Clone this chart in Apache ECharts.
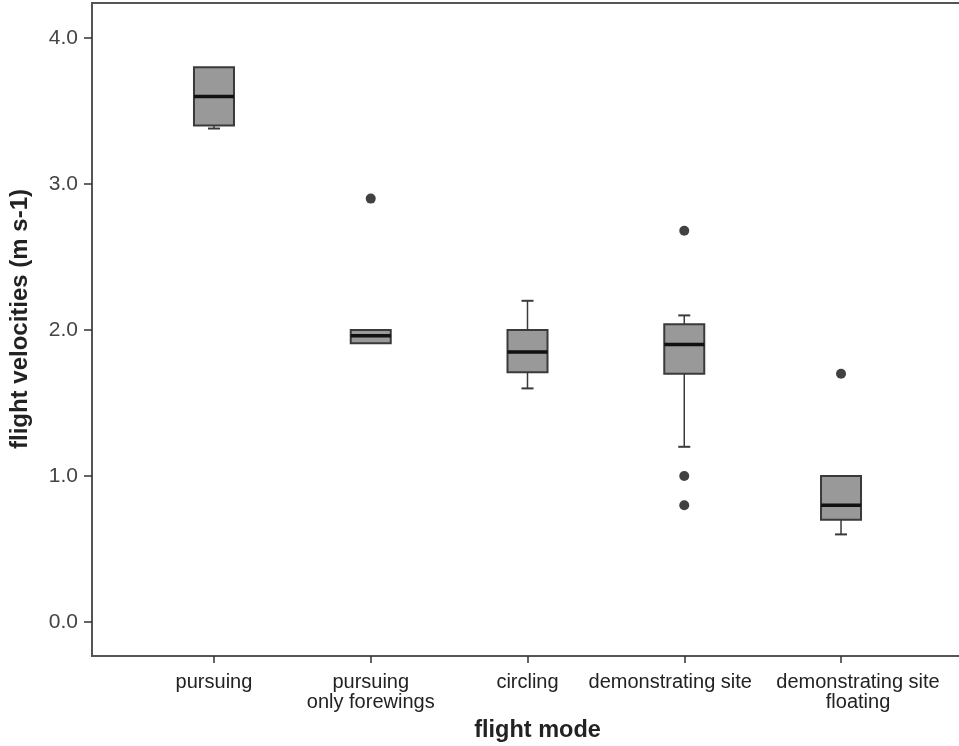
<!DOCTYPE html>
<html>
<head>
<meta charset="utf-8">
<script src="https://cdn.jsdelivr.net/npm/echarts@6/dist/echarts.min.js"></script>
<style>html,body{margin:0;padding:0;background:#fff}#c{width:959px;height:746px}</style>
</head>
<body>
<div id="c"></div>
<script>
const categories = ['pursuing', 'pursuing\nonly forewings', 'circling', 'demonstrating site', 'demonstrating site\nfloating'];
const whiskerMin = [3.38, 1.91, 1.60, 1.20, 0.60];
const q1 = [3.40, 1.91, 1.71, 1.70, 0.70];
const medians = [3.60, 1.96, 1.85, 1.90, 0.80];
const q3 = [3.80, 2.00, 2.00, 2.04, 1.00];
const whiskerMax = [3.80, 2.00, 2.20, 2.10, 1.00];
const outlierCat = [1, 3, 3, 3, 4];
const outlierVal = [2.90, 2.68, 1.00, 0.80, 1.70];
const yTicks = [0, 1, 2, 3, 4];

const boxData = categories.map((c, i) => [i, whiskerMin[i], q1[i], medians[i], q3[i], whiskerMax[i]]);
const outliers = outlierCat.map((c, i) => [c, outlierVal[i]]);
// small horizontal nudges of the two long labels so they do not collide (as in the original)
const labelPadding = [null, null, null, [0, 28, 0, 0], [0, 0, 0, 34]];
const axisCategories = categories.map((c, i) => labelPadding[i] ? {value: c, textStyle: {padding: labelPadding[i]}} : c);

const FONT = 'Liberation Sans, Arial, sans-serif';
const chart = echarts.init(document.getElementById('c'));

function renderBox(params, api) {
  const i = api.value(0);
  const pMin = api.coord([i, api.value(1)]);
  const pQ1 = api.coord([i, api.value(2)]);
  const pMed = api.coord([i, api.value(3)]);
  const pQ3 = api.coord([i, api.value(4)]);
  const pMax = api.coord([i, api.value(5)]);
  const cx = pMed[0];
  const bw = 40, cap = 12;
  const stroke = '#3a3a3a';
  const children = [];
  if (Math.abs(pMax[1] - pQ3[1]) > 0.5) {
    children.push({type: 'line', shape: {x1: cx, y1: pQ3[1], x2: cx, y2: pMax[1]}, style: {stroke: stroke, lineWidth: 1.5}});
    children.push({type: 'line', shape: {x1: cx - cap / 2, y1: pMax[1], x2: cx + cap / 2, y2: pMax[1]}, style: {stroke: stroke, lineWidth: 2}});
  }
  if (Math.abs(pMin[1] - pQ1[1]) > 0.5) {
    children.push({type: 'line', shape: {x1: cx, y1: pQ1[1], x2: cx, y2: pMin[1]}, style: {stroke: stroke, lineWidth: 1.5}});
    children.push({type: 'line', shape: {x1: cx - cap / 2, y1: pMin[1], x2: cx + cap / 2, y2: pMin[1]}, style: {stroke: stroke, lineWidth: 2}});
  }
  children.push({type: 'rect', shape: {x: cx - bw / 2, y: pQ3[1], width: bw, height: pQ1[1] - pQ3[1]}, style: {fill: '#999999', stroke: stroke, lineWidth: 2}});
  children.push({type: 'line', shape: {x1: cx - bw / 2, y1: pMed[1], x2: cx + bw / 2, y2: pMed[1]}, style: {stroke: '#111', lineWidth: 3.5}});
  return {type: 'group', children: children};
}

chart.setOption({
  animation: false,
  backgroundColor: '#fff',
  grid: [
    {left: 92, top: 3, width: 900, bottom: 90, show: true, borderColor: '#555', borderWidth: 2, backgroundColor: 'transparent', outerBoundsMode: 'none', containLabel: false},
    {left: 135.6, top: 38, width: 783.8, height: 584, outerBoundsMode: 'none', containLabel: false},
    {left: 135.6, top: 38, width: 783.8, height: 618, outerBoundsMode: 'none', containLabel: false}
  ],
  xAxis: [
    {gridIndex: 0, type: 'value', show: false},
    {gridIndex: 1, type: 'category', data: categories, show: false},
    {
      gridIndex: 2, type: 'category', data: axisCategories,
      axisLine: {show: false},
      axisTick: {show: true, alignWithLabel: true, length: 7, lineStyle: {color: '#333', width: 1.5}},
      axisLabel: {fontFamily: FONT, fontSize: 20, lineHeight: 20, color: '#222', margin: 16, interval: 0},
      name: 'flight mode', nameLocation: 'middle', nameGap: 63,
      nameTextStyle: {fontFamily: FONT, fontSize: 23.5, fontWeight: 'bold', color: '#222', padding: [0, 0, 0, 20]}
    }
  ],
  yAxis: [
    {gridIndex: 0, type: 'value', show: false},
    {
      gridIndex: 1, type: 'value', min: 0, max: 4, interval: 1, offset: 43.6,
      axisLine: {show: false},
      axisTick: {show: true, length: 8, lineStyle: {color: '#333', width: 1.5}},
      splitLine: {show: false},
      axisLabel: {fontFamily: FONT, fontSize: 21, color: '#444', margin: 14, formatter: v => v.toFixed(1)},
      name: 'flight velocities (m s-1)', nameLocation: 'middle', nameGap: 60,
      nameTextStyle: {fontFamily: FONT, fontSize: 24, fontWeight: 'bold', color: '#222', padding: [0, 0, 0, 22]}
    },
    {gridIndex: 2, type: 'value', show: false}
  ],
  series: [
    {type: 'custom', xAxisIndex: 1, yAxisIndex: 1, data: boxData, renderItem: renderBox, encode: {x: 0, y: [1, 2, 3, 4, 5]}},
    {type: 'scatter', xAxisIndex: 1, yAxisIndex: 1, data: outliers, symbol: 'circle', symbolSize: 10, itemStyle: {color: '#111'}}
  ]
});
</script>
</body>
</html>
